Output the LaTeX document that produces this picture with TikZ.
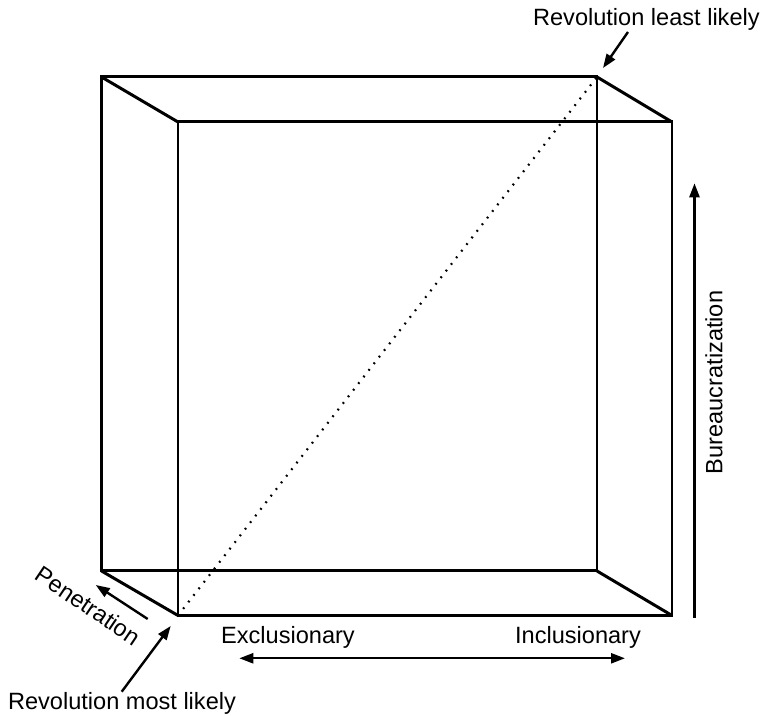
\documentclass[tikz,border=0pt]{standalone}
\usepackage{fontspec}
\setmainfont{Liberation Sans}
\usetikzlibrary{arrows.meta}

\begin{document}
\begin{tikzpicture}[scale=0.176,
        edge/.style={draw=black, line width=1.5pt, line join=miter},
        diag/.style={draw=black, line width=1.1pt, dash pattern=on 0.9pt off 3.3pt},
        axis/.style={draw=black, line width=1.2pt, -{Triangle[length=7pt, width=5pt]}},
        lab/.style={font=\fontsize{11.8pt}{14pt}\selectfont, inner sep=0pt},
      ]
      \useasboundingbox (0,0) rectangle (76.5,71.6);
      % back and front faces
      \coordinate (bsw) at (10.15,14.5);  \coordinate (bse) at (59.7,14.5);
      \coordinate (bnw) at (10.15,63.9);  \coordinate (bne) at (59.7,63.9);
      \coordinate (fsw) at (17.8,10.05);  \coordinate (fse) at (67.2,10.05);
      \coordinate (fnw) at (17.8,59.4);   \coordinate (fne) at (67.2,59.4);
      \draw[edge] (bsw) -- (bse) -- (bne) -- (bnw) -- cycle;
      \draw[edge] (fsw) -- (fse) -- (fne) -- (fnw) -- cycle;
      \draw[edge] (bsw) -- (fsw);
      \draw[edge] (bse) -- (fse);
      \draw[edge] (bnw) -- (fnw);
      \draw[edge] (bne) -- (fne);
      \draw[diag] (fsw) -- (bne);
      % labels
      \node[lab, anchor=base] (least) at (64.64,69.0) {Revolution least likely};
      \node[lab, anchor=base] (most) at (12.2,0.6) {Revolution most likely};
      \node[lab, anchor=base] (excl) at (28.8,7.27) {Exclusionary};
      \node[lab, anchor=base] (incl) at (57.8,7.27) {Inclusionary};
      \node[lab, rotate=90] (bur) at (71.4,33.35) {Bureaucratization};
      \node[lab, rotate=-34] (pen) at (8.83,11.03) {Penetration};
      % arrows
      \coordinate (leastT) at (62.8,68.4);  \coordinate (leastH) at (60.3,64.8);
      \coordinate (mostT) at (12.17,2.43);  \coordinate (mostH) at (17.07,9.0);
      \coordinate (penT) at (14.77,9.7);    \coordinate (penH) at (9.57,13.1);
      \coordinate (burT) at (69.45,9.83);   \coordinate (burH) at (69.45,53.27);
      \coordinate (exL) at (23.93,5.77);    \coordinate (exR) at (62.5,5.77);
      \draw[axis] (leastT) -- (leastH);
      \draw[axis] (mostT) -- (mostH);
      \draw[axis] (penT) -- (penH);
      \draw[axis] (burT) -- (burH);
      \draw[axis, {Triangle[length=7pt, width=5pt]}-{Triangle[length=7pt, width=5pt]}] (exL) -- (exR);
\end{tikzpicture}
\end{document}
